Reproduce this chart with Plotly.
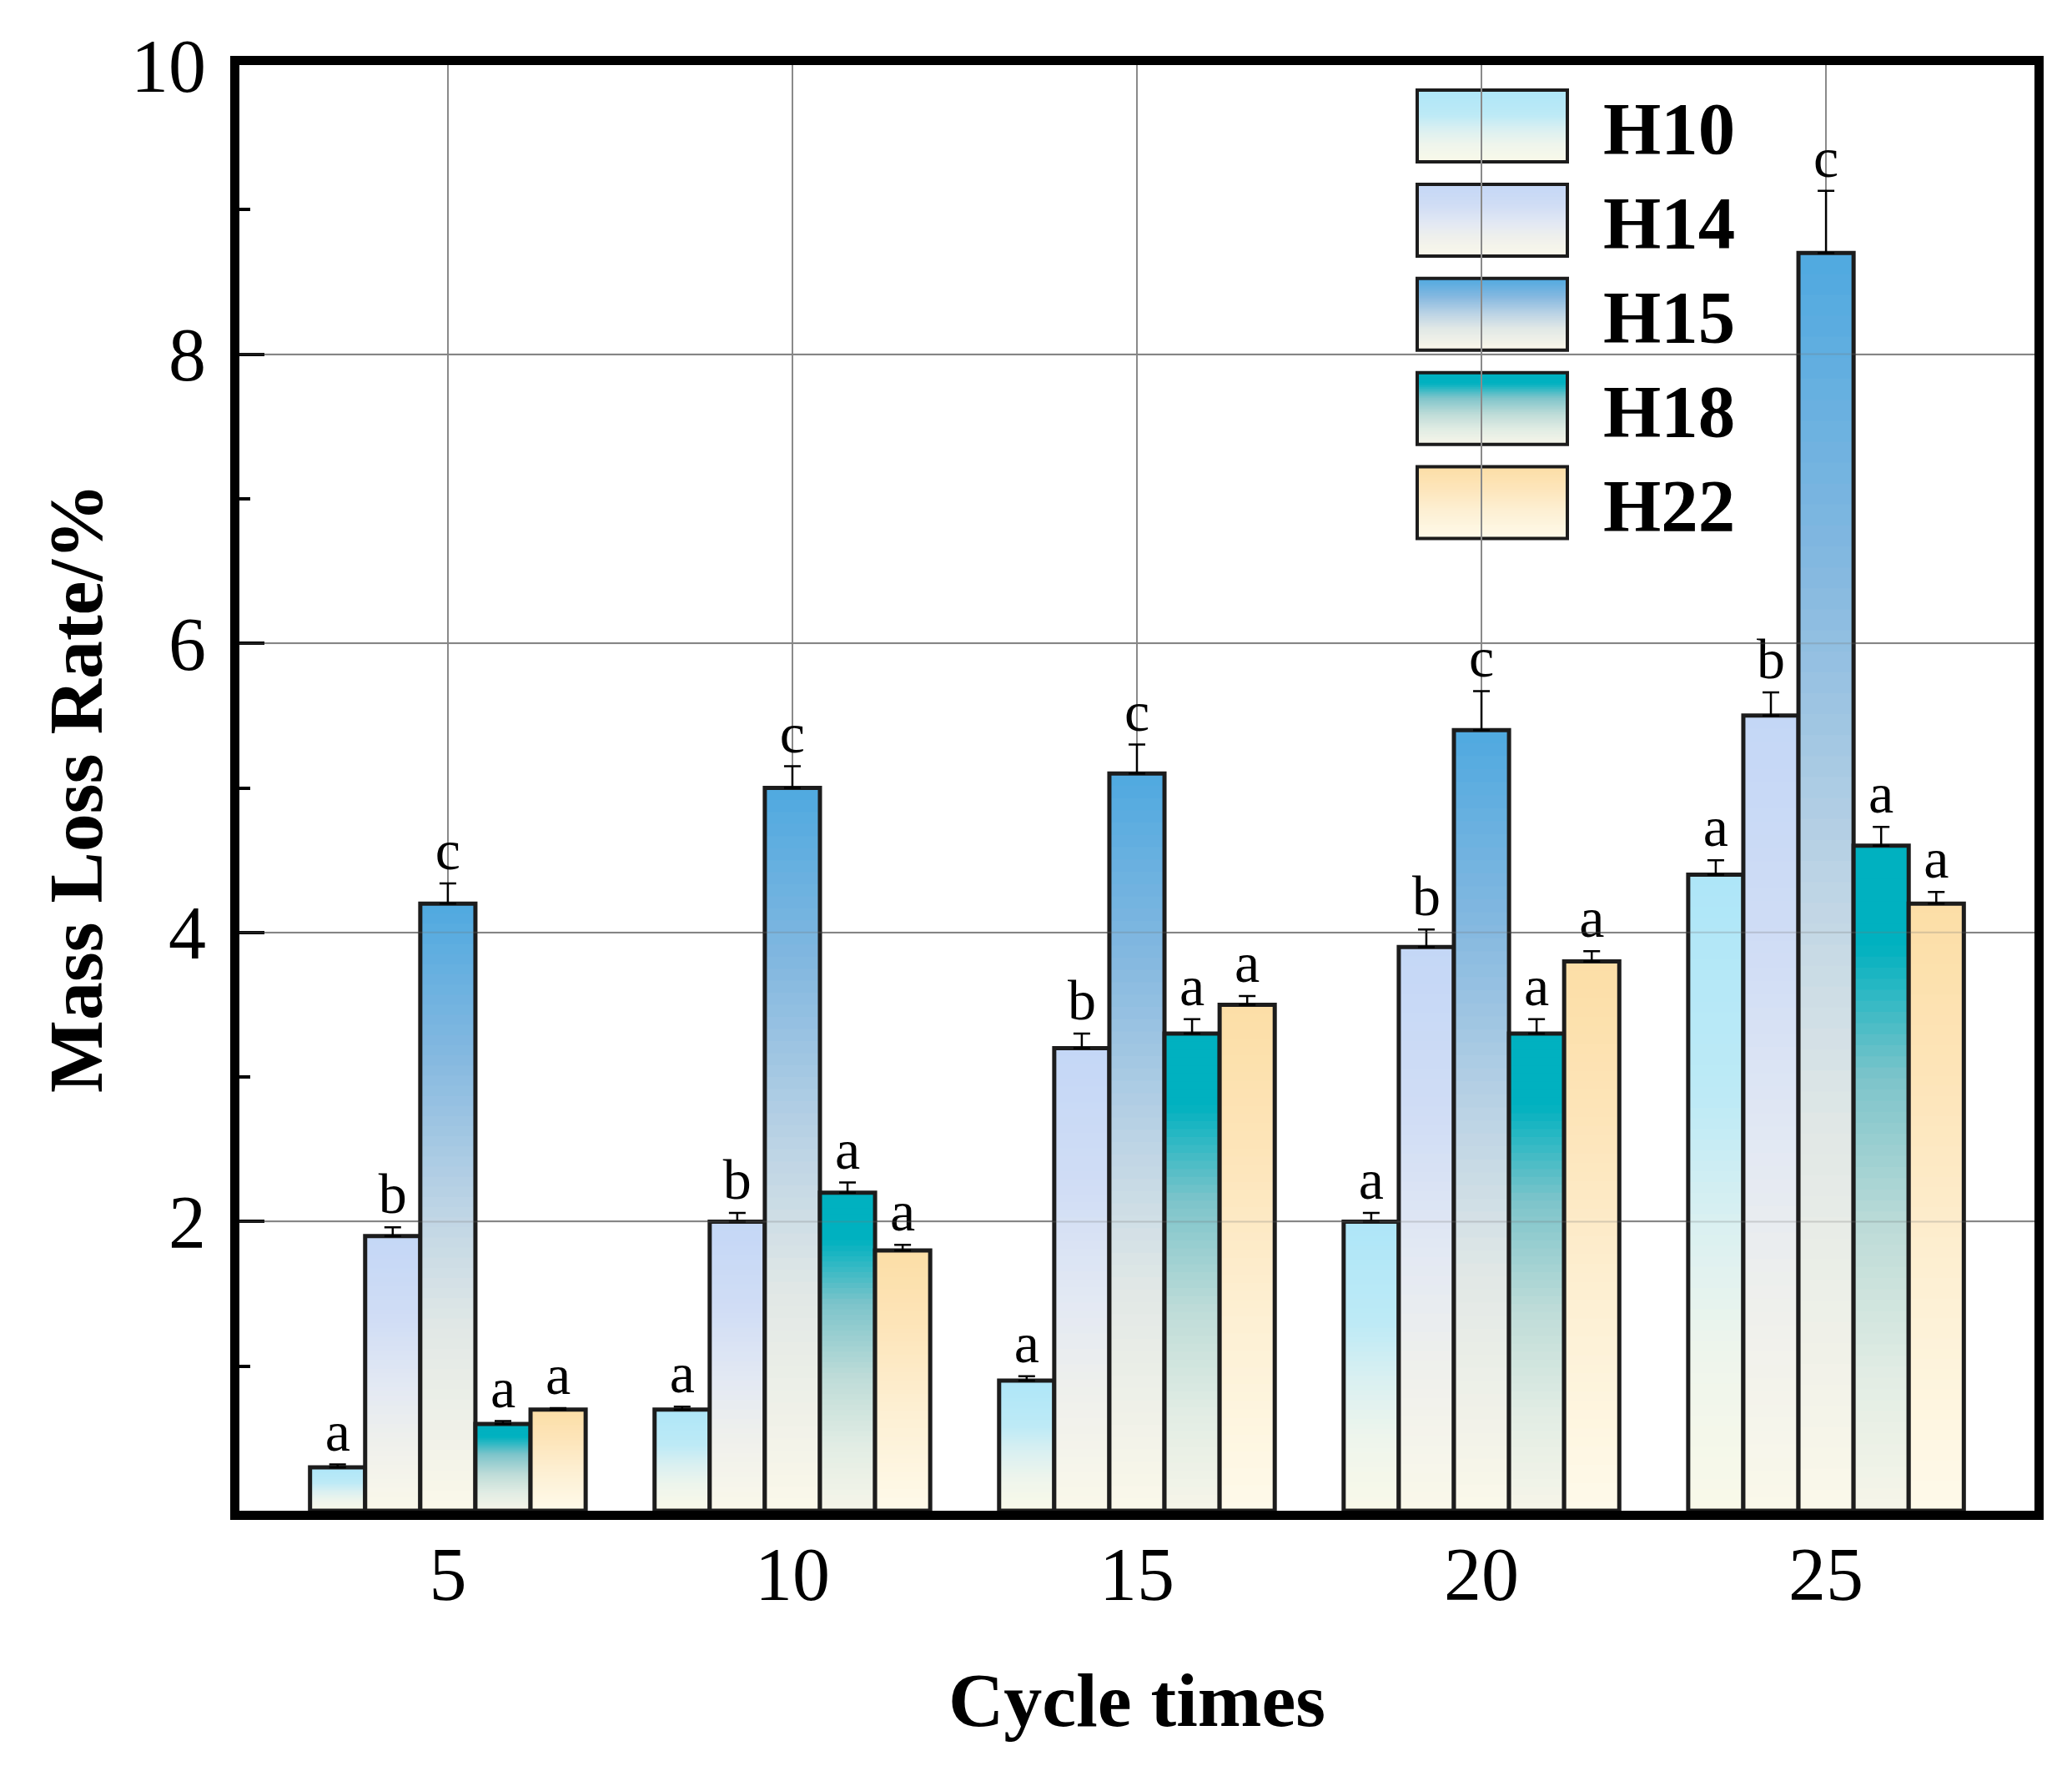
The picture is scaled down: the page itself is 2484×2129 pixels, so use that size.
import plotly.graph_objects as go

# ---------------- data ----------------
cycles = ["5", "10", "15", "20", "25"]
series_names = ["H10", "H14", "H15", "H18", "H22"]

H10 = [0.3, 0.7, 0.9, 2.0, 4.4]
H14 = [1.9, 2.0, 3.2, 3.9, 5.5]
H15 = [4.2, 5.0, 5.1, 5.4, 8.7]
H18 = [0.6, 2.2, 3.3, 3.3, 4.6]
H22 = [0.7, 1.8, 3.5, 3.8, 4.2]

H10_err = [0.02, 0.02, 0.03, 0.06, 0.10]
H14_err = [0.06, 0.06, 0.10, 0.12, 0.16]
H15_err = [0.14, 0.15, 0.20, 0.27, 0.43]
H18_err = [0.02, 0.07, 0.10, 0.10, 0.13]
H22_err = [0.01, 0.04, 0.06, 0.07, 0.08]

H10_sig = ["a", "a", "a", "a", "a"]
H14_sig = ["b", "b", "b", "b", "b"]
H15_sig = ["c", "c", "c", "c", "c"]
H18_sig = ["a", "a", "a", "a", "a"]
H22_sig = ["a", "a", "a", "a", "a"]

y_tickvals = [2, 4, 6, 8, 10]

values = [H10, H14, H15, H18, H22]
errors = [H10_err, H14_err, H15_err, H18_err, H22_err]
letters = [H10_sig, H14_sig, H15_sig, H18_sig, H22_sig]

# ---------------- styles (gradient stops, bottom=0 -> top=1) ----------------
gradients = {
    "H10": [(0.0, "#F9F9E9"), (0.25, "#EEF5EC"), (0.45, "#DAF0F1"), (0.65, "#BDEAF6"), (1.0, "#AEE6F8")],
    "H14": [(0.0, "#FAF8EA"), (0.25, "#EFF0EC"), (0.45, "#E3E9F3"), (0.7, "#D0DDF5"), (1.0, "#C4D7F6")],
    "H15": [(0.0, "#FBF8EA"), (0.3, "#E1E8E6"), (0.5, "#BDD4E5"), (0.75, "#84B8E0"), (1.0, "#4FA9E0")],
    "H18": [(0.0, "#F6F5E9"), (0.2, "#E2EDE4"), (0.42, "#BEDCD8"), (0.65, "#7DC4CA"), (0.85, "#00B1C0"), (1.0, "#00B1C0")],
    "H22": [(0.0, "#FEFAEA"), (0.4, "#FDEFD2"), (0.7, "#FDE5BA"), (1.0, "#FCDEA6")],
}


def hex2rgb(h):
    h = h.lstrip("#")
    return tuple(int(h[i:i + 2], 16) for i in (0, 2, 4))


def interp(stops, t):
    for (p0, c0), (p1, c1) in zip(stops[:-1], stops[1:]):
        if p0 <= t <= p1:
            f = 0 if p1 == p0 else (t - p0) / (p1 - p0)
            a, b = hex2rgb(c0), hex2rgb(c1)
            return "rgb(%d,%d,%d)" % tuple(round(a[i] + (b[i] - a[i]) * f) for i in range(3))
    return "rgb(%d,%d,%d)" % hex2rgb(stops[-1][1])


FONT = "Liberation Serif"
N = 60

fig = go.Figure()

for name, vals, errs, lets in zip(series_names, values, errors, letters):
    stops = gradients[name]
    for k in range(N):
        # each slice overlaps the next one a little so no seams appear
        fig.add_trace(go.Bar(
            x=cycles,
            y=[min(v / N * 1.8, v - k * v / N) for v in vals],
            base=[k * v / N for v in vals],
            offsetgroup=name, marker=dict(color=interp(stops, (k + 0.5) / N), line=dict(width=0)),
            showlegend=False, hoverinfo="skip"))
    fig.add_trace(go.Bar(
        x=cycles, y=vals, offsetgroup=name, name=name,
        marker=dict(color="rgba(0,0,0,0)", line=dict(color="#1c1c1c", width=5)),
        error_y=dict(type="data", array=errs, arrayminus=[0] * len(errs), symmetric=False,
                     color="black", thickness=2.5, width=10),
        showlegend=False))
    fig.add_trace(go.Scatter(
        x=cycles, y=[v + e for v, e in zip(vals, errs)], mode="text", text=lets,
        textposition="top center", offsetgroup=name,
        textfont=dict(family=FONT, size=68, color="black"),
        showlegend=False, hoverinfo="skip"))

# ---------------- layout geometry ----------------
W, H = 2484, 2129
L, R, T, B = 287, 2439, 78, 1811


def px2x(px):
    return (px - L) / (R - L)


def px2y(py):
    return (B - py) / (B - T)


shapes = []
annotations = []
# faint grid overlay on top of bars
for yv in y_tickvals[:-1]:
    shapes.append(dict(type="line", xref="x domain", yref="y", x0=0, x1=1, y0=yv, y1=yv,
                       line=dict(color="rgba(120,120,120,0.28)", width=2), layer="above"))
for c in cycles:
    shapes.append(dict(type="line", xref="x", yref="y domain", x0=c, x1=c, y0=0, y1=1,
                       line=dict(color="rgba(120,120,120,0.28)", width=2), layer="above"))

# manual legend with gradient swatches
M = 40
for i, name in enumerate(series_names):
    top = 108 + 112.9 * i
    bot = top + 86
    x0, x1 = px2x(1699), px2x(1879)
    stops = gradients[name]
    for j in range(M):
        ya = bot - (bot - top) * j / M
        yb = bot - (bot - top) * (j + 1) / M - 0.8
        shapes.append(dict(type="rect", xref="paper", yref="paper", x0=x0, x1=x1,
                           y0=px2y(ya), y1=px2y(yb), line=dict(width=0),
                           fillcolor=interp(stops, (j + 0.5) / M), layer="between"))
    shapes.append(dict(type="rect", xref="paper", yref="paper", x0=x0, x1=x1,
                       y0=px2y(bot), y1=px2y(top), line=dict(color="#1c1c1c", width=4),
                       fillcolor="rgba(0,0,0,0)", layer="between"))
    annotations.append(dict(xref="paper", yref="paper", x=px2x(1920), y=px2y((top + bot) / 2 + 3),
                            xanchor="left", yanchor="middle", showarrow=False,
                            text="<b>%s</b>" % name,
                            font=dict(family=FONT, size=89, color="black")))

fig.update_layout(
    width=W, height=H,
    margin=dict(l=L, r=W - R, t=T, b=H - B),
    paper_bgcolor="white", plot_bgcolor="white",
    barmode="group", bargap=0.2, bargroupgap=0,
    scattermode="group", scattergap=0.2,
    font=dict(family=FONT, color="black"),
    shapes=shapes, annotations=annotations,
    showlegend=False,
)

fig.update_xaxes(
    type="category", categoryorder="array", categoryarray=cycles,
    range=[-0.605, 4.605],
    showline=True, linecolor="black", linewidth=11, mirror=True,
    ticks="", showgrid=True, gridcolor="#8a8a8a", gridwidth=2,
    tickfont=dict(family=FONT, size=90, color="black"), ticklabelstandoff=-12,
    title=dict(text="<b>Cycle times</b>", font=dict(family=FONT, size=92, color="black"), standoff=73),
)
fig.update_yaxes(
    range=[0, 10], tickmode="array", tickvals=y_tickvals, ticktext=[str(v) for v in y_tickvals],
    showline=True, linecolor="black", linewidth=11, mirror=True,
    ticks="inside", ticklen=30, tickwidth=4, tickcolor="black",
    minor=dict(tickmode="array", tickvals=[1, 3, 5, 7, 9], ticks="inside", ticklen=13, tickwidth=4, tickcolor="black"),
    showgrid=True, gridcolor="#8a8a8a", gridwidth=2, zeroline=False,
    tickfont=dict(family=FONT, size=90, color="black"), ticklabelstandoff=11,
    title=dict(text="<b>Mass Loss Rate/%</b>", font=dict(family=FONT, size=92, color="black"), standoff=8),
)

fig.write_html("out.html")
